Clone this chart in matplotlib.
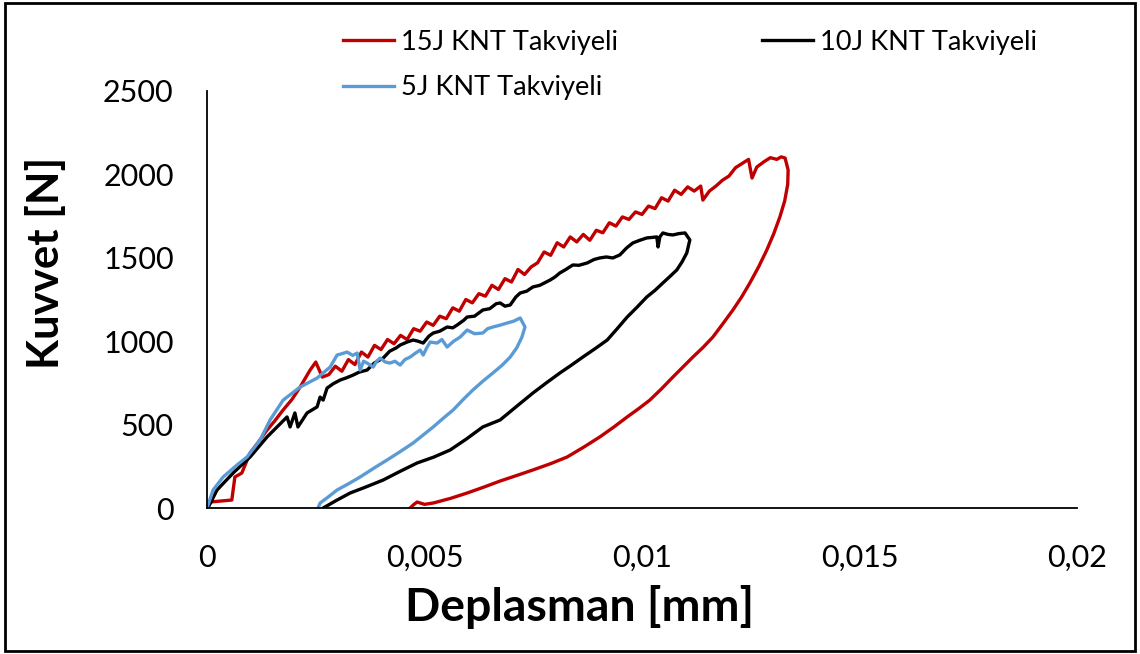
import matplotlib.pyplot as plt
from matplotlib.patches import Rectangle

plt.rcParams['font.family'] = ['Lato', 'DejaVu Sans']

# 15J KNT Takviyeli (loading, then unloading back to the residual displacement)
x_15j = [0, 0.00007, 0.00057, 0.00064, 0.00080, 0.00099, 0.00118, 0.00138, 0.00155, 0.00175,
         0.00195, 0.00214, 0.00237,
         0.00250, 0.00265, 0.00280, 0.00295, 0.00310, 0.00325, 0.00340, 0.00355, 0.00370, 0.00385,
         0.00400, 0.00415, 0.00430, 0.00445, 0.00460, 0.00475, 0.00490, 0.00505, 0.00520, 0.00535,
         0.00550, 0.00565, 0.00580, 0.00595, 0.00610, 0.00625, 0.00640, 0.00655, 0.00670, 0.00685,
         0.00700, 0.00715, 0.00730, 0.00745, 0.00760, 0.00775, 0.00790, 0.00805, 0.00820, 0.00835,
         0.00850, 0.00865, 0.00880, 0.00895, 0.00910, 0.00925, 0.00940, 0.00955, 0.00970, 0.00985,
         0.01000, 0.01015, 0.01030, 0.01045, 0.01060, 0.01075, 0.01090, 0.01105, 0.01120, 0.01135,
         0.01140, 0.01155, 0.01170, 0.01185, 0.01200, 0.01215, 0.01230, 0.01245, 0.01253, 0.01264,
         0.01280, 0.01295, 0.01310, 0.01320, 0.01329, 0.01336,
         0.01335, 0.01328, 0.01317, 0.01303, 0.01287, 0.01268, 0.01248, 0.01229, 0.01209, 0.01186,
         0.01163, 0.01140, 0.01117, 0.01094, 0.01071, 0.01045, 0.01018, 0.00992, 0.00966, 0.00935,
         0.00903, 0.00866, 0.00828, 0.00789, 0.00749, 0.00712, 0.00674, 0.00636, 0.00598, 0.00560,
         0.00520, 0.00500, 0.00483, 0.00474, 0.00467]
y_15j = [0, 36, 48, 186, 210, 330, 395, 468, 520, 588,
         650, 725, 827,
         875, 785, 800, 850, 820, 890, 860, 935, 905, 975,
         950, 1010, 985, 1035, 1010, 1075, 1060, 1115, 1095, 1150,
         1135, 1200, 1180, 1250, 1230, 1285, 1270, 1335, 1310, 1375,
         1355, 1430, 1400, 1445, 1470, 1535, 1515, 1590, 1565, 1625,
         1595, 1640, 1605, 1665, 1650, 1710, 1690, 1745, 1730, 1775,
         1760, 1810, 1795, 1860, 1840, 1905, 1880, 1925, 1900, 1930,
         1846, 1900, 1930, 1965, 1990, 2040, 2065, 2090, 1978, 2044,
         2075, 2100, 2090, 2105, 2098, 2026,
         1940, 1840, 1745, 1645, 1547, 1445, 1349, 1265, 1187, 1105,
         1025, 962, 905, 845, 785, 715, 647, 595, 546, 485,
         426, 365, 306, 265, 228, 195, 162, 125, 90, 58,
         30, 22, 36, 18, 0]

# 10J KNT Takviyeli
x_10j = [0.00002, 0.00023, 0.00060, 0.00099, 0.00138, 0.00161, 0.00184, 0.00191, 0.00202, 0.00209,
         0.00230, 0.00253, 0.00260, 0.00267,
         0.00276, 0.00290, 0.00306, 0.00320, 0.00336, 0.00350, 0.00368, 0.00385, 0.00405, 0.00420,
         0.00435, 0.00444, 0.00460, 0.00474, 0.00485, 0.00497, 0.00510, 0.00520, 0.00535, 0.00552,
         0.00565, 0.00575, 0.00590, 0.00598, 0.00615, 0.00634, 0.00650, 0.00665, 0.00674, 0.00685,
         0.00697, 0.00710, 0.00720, 0.00735, 0.00749, 0.00765, 0.00789, 0.00800, 0.00811, 0.00825,
         0.00841, 0.00855, 0.00874, 0.00890, 0.00903, 0.00918, 0.00933, 0.00949, 0.00965, 0.00979,
         0.00995, 0.01011, 0.01034, 0.01037, 0.01041, 0.01048, 0.01060, 0.01071, 0.01085, 0.01099,
         0.01110,
         0.01103, 0.01092, 0.01080, 0.01065, 0.01048, 0.01030, 0.01011, 0.00989, 0.00966, 0.00943,
         0.00920, 0.00892, 0.00864, 0.00838, 0.00811, 0.00780, 0.00749, 0.00712, 0.00674, 0.00634,
         0.00597, 0.00559, 0.00521, 0.00483, 0.00444, 0.00405, 0.00367, 0.00329, 0.00297, 0.00267]
y_10j = [0, 108, 210, 306, 426, 486, 546, 486, 570, 486,
         570, 606, 665, 647,
         719, 745, 767, 780, 797, 815, 827, 870, 899, 940,
         960, 977, 995, 1007, 1000, 989, 1030, 1049, 1060, 1085,
         1080, 1097, 1125, 1145, 1150, 1187, 1195, 1225, 1229, 1210,
         1217, 1265, 1289, 1300, 1325, 1335, 1367, 1385, 1409, 1430,
         1457, 1455, 1469, 1490, 1499, 1505, 1499, 1517, 1560, 1589,
         1605, 1619, 1625, 1565, 1625, 1649, 1640, 1637, 1645, 1649,
         1607,
         1529, 1475, 1427, 1390, 1349, 1305, 1265, 1205, 1145, 1075,
         1007, 955, 905, 857, 809, 750, 689, 610, 528, 486,
         415, 348, 305, 270, 220, 168, 128, 90, 45, 0]

# 5J KNT Takviyeli
x_5j = [0, 0.00014, 0.00037, 0.00069, 0.00092, 0.00122, 0.00145, 0.00175, 0.00214, 0.00253,
        0.00283, 0.00299, 0.00310, 0.00322, 0.00335, 0.00345, 0.00352, 0.00360, 0.00368, 0.00382,
        0.00390, 0.00398, 0.00410, 0.00421, 0.00432, 0.00444, 0.00455, 0.00467, 0.00480, 0.00490,
        0.00497, 0.00505, 0.00513, 0.00529, 0.00540, 0.00552, 0.00567, 0.00582, 0.00598, 0.00615,
        0.00634, 0.00645, 0.00657, 0.00672, 0.00690, 0.00705, 0.00720, 0.00731, 0.00724,
        0.00712, 0.00697, 0.00678, 0.00657, 0.00634, 0.00611, 0.00588, 0.00566, 0.00543, 0.00520,
        0.00497, 0.00474, 0.00444, 0.00414, 0.00383, 0.00352, 0.00325, 0.00299, 0.00278, 0.00260,
        0.00255]
y_5j = [0, 108, 186, 258, 306, 408, 528, 647, 725, 779,
        845, 917, 925, 935, 915, 929, 827, 880, 869, 845,
        880, 899, 875, 869, 880, 857, 890, 905, 930, 947,
        917, 960, 995, 989, 1010, 965, 1000, 1025, 1067, 1045,
        1049, 1075, 1085, 1095, 1109, 1120, 1139, 1085, 1025,
        960, 905, 855, 809, 760, 707, 648, 588, 538, 486,
        438, 390, 338, 288, 238, 186, 145, 108, 65, 30,
        0]

fig = plt.figure(figsize=(11.4, 6.54), dpi=100)
ax = fig.add_axes([0.1816, 0.2232, 0.7631, 0.6377])

l15, = ax.plot(x_15j, y_15j, color='#C00000', lw=2.4, label='15J KNT Takviyeli')
l10, = ax.plot(x_10j, y_10j, color='black', lw=2.4, label='10J KNT Takviyeli')
l5, = ax.plot(x_5j, y_5j, color='#5B9BD5', lw=2.4, label='5J KNT Takviyeli')

ax.set_xlim(0, 0.02)
ax.set_ylim(0, 2500)
ax.set_xticks([0, 0.005, 0.01, 0.015, 0.02])
ax.set_xticklabels(['0', '0,005', '0,01', '0,015', '0,02'])
ax.set_yticks([0, 500, 1000, 1500, 2000, 2500])
ax.tick_params(length=0, labelsize=22)
ax.tick_params(axis='x', pad=26)
ax.tick_params(axis='y', pad=24)
for s in ['top', 'right']:
    ax.spines[s].set_visible(False)
for s in ['left', 'bottom']:
    ax.spines[s].set_linewidth(1.3)

fig.text(580 / 1140, 1 - 607 / 654, 'Deplasman [mm]', fontsize=33.4, fontweight='bold',
         ha='center', va='center')
fig.text(46 / 1140, 1 - 263 / 654, 'Kuvvet [N]', fontsize=31.5, fontweight='bold',
         ha='center', va='center', rotation=90)

fig.legend(handles=[l15, l5, l10], ncol=2, frameon=False, fontsize=19.6,
           loc='upper left', bbox_to_anchor=(0.2795, 0.992),
           handlelength=1.87, handletextpad=0.26, columnspacing=5.3,
           labelspacing=0.75)

fig.patches.append(Rectangle((0.004, 0.004), 0.992, 0.992, transform=fig.transFigure,
                             fill=False, edgecolor='black', lw=2))

fig.savefig('out.png', dpi=100)
